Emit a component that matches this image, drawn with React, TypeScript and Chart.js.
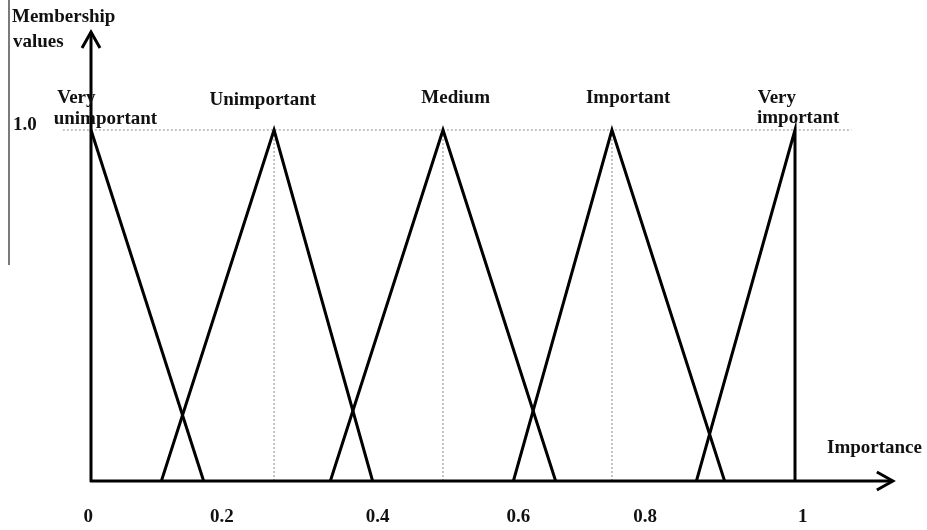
import React, { useEffect, useRef } from "react";
import { Chart, registerables } from "chart.js";

Chart.register(...registerables);

// ---- data ----
const CATEGORIES = ["Very unimportant", "Unimportant", "Medium", "Important", "Very important"];
const VERY_UNIMPORTANT: number[][] = [[0, 1], [0.16, 0]];
const UNIMPORTANT: number[][] = [[0.1, 0], [0.26, 1], [0.4, 0]];
const MEDIUM: number[][] = [[0.34, 0], [0.5, 1], [0.66, 0]];
const IMPORTANT: number[][] = [[0.6, 0], [0.74, 1], [0.9, 0]];
const VERY_IMPORTANT: number[][] = [[0.86, 0], [1, 1], [1, 0]];
const SERIES = [VERY_UNIMPORTANT, UNIMPORTANT, MEDIUM, IMPORTANT, VERY_IMPORTANT];

const PEAK_GUIDES_X = [0.26, 0.5, 0.74];
const FULL_MEMBERSHIP = 1.0;
const GUIDE_X_RANGE = [-0.04, 1.08];

const TICK_LABELS = ["0", "0.2", "0.4", "0.6", "0.8", "1"];
const TICK_POSITIONS = [-0.004, 0.186, 0.407, 0.607, 0.787, 1.011];

const X_TITLE = "Importance";
const Y_TITLE = ["Membership", "values"];
const Y_LABEL = "1.0";

const FONT = "'Liberation Serif', 'Times New Roman', serif";

const axisPlugin = {
  id: "fuzzyAxes",
  afterDatasetsDraw(chart: any) {
    const ctx: CanvasRenderingContext2D = chart.ctx;
    const xs = chart.scales.x;
    const ys = chart.scales.y;
    const x0 = xs.getPixelForValue(0);
    const y0 = ys.getPixelForValue(0);
    const yTop = ys.getPixelForValue(1.279);
    const xRight = xs.getPixelForValue(1.139);
    ctx.save();
    ctx.strokeStyle = "#000";
    ctx.lineWidth = 3;
    ctx.lineCap = "butt";
    ctx.lineJoin = "miter";
    // y axis
    ctx.beginPath();
    ctx.moveTo(x0, y0 + 1);
    ctx.lineTo(x0, yTop);
    ctx.stroke();
    ctx.beginPath();
    ctx.moveTo(x0 - 9, yTop + 16);
    ctx.lineTo(x0, yTop);
    ctx.lineTo(x0 + 9, yTop + 16);
    ctx.stroke();
    // x axis
    ctx.beginPath();
    ctx.moveTo(x0 - 1, y0);
    ctx.lineTo(xRight, y0);
    ctx.stroke();
    ctx.beginPath();
    ctx.moveTo(xRight - 16, y0 - 9);
    ctx.lineTo(xRight, y0);
    ctx.lineTo(xRight - 16, y0 + 9);
    ctx.stroke();

    // thin left border artifact
    ctx.lineWidth = 1.2;
    ctx.strokeStyle = "#222";
    ctx.beginPath();
    ctx.moveTo(9, 0);
    ctx.lineTo(9, 265);
    ctx.stroke();

    // texts
    ctx.fillStyle = "#111";
    ctx.font = `bold 19px ${FONT}`;
    ctx.textBaseline = "middle";
    ctx.textAlign = "left";
    ctx.fillText(Y_TITLE[0], 12, 17);
    ctx.fillText(Y_TITLE[1], 13, 42);
    ctx.fillText(Y_LABEL, 13, ys.getPixelForValue(FULL_MEMBERSHIP) - 5);
    ctx.fillText(X_TITLE, 827, 448);

    const l1 = ys.getPixelForValue(1.091);
    const l2 = ys.getPixelForValue(1.031);
    // Very unimportant (two lines, left aligned)
    ctx.textAlign = "left";
    ctx.fillText("Very", xs.getPixelForValue(-0.048), l1);
    ctx.fillText("unimportant", xs.getPixelForValue(-0.053), l2);
    ctx.fillText("Very", xs.getPixelForValue(0.947), l1);
    ctx.fillText("important", xs.getPixelForValue(0.946), l2 - 1);
    ctx.textAlign = "center";
    const ly = ys.getPixelForValue(1.085);
    ctx.fillText(CATEGORIES[1], xs.getPixelForValue(0.244), ly);
    ctx.fillText(CATEGORIES[2], xs.getPixelForValue(0.518), ly - 2);
    ctx.fillText(CATEGORIES[3], xs.getPixelForValue(0.763), ly - 2);
    ctx.restore();
  },
};

export default function App() {
  const ref = useRef<HTMLCanvasElement | null>(null);
  useEffect(() => {
    document.body.style.margin = "0";
    const canvas = ref.current;
    if (!canvas) return;
    const toPts = (s: number[][]) => s.map(([x, y]) => ({ x, y }));
    const solid = SERIES.map((s, i) => ({
      label: CATEGORIES[i],
      data: toPts(s),
      borderColor: "#000",
      borderWidth: 3,
      borderJoinStyle: "miter" as const,
      pointRadius: 0,
      showLine: true,
      fill: false,
      tension: 0,
    }));
    const dotted = [
      {
        label: "full membership",
        data: GUIDE_X_RANGE.map((x) => ({ x, y: FULL_MEMBERSHIP })),
      },
      ...PEAK_GUIDES_X.map((x) => ({
        label: "peak " + x,
        data: [{ x, y: 0 }, { x, y: FULL_MEMBERSHIP }],
      })),
    ].map((d) => ({
      ...d,
      borderColor: "#8a8a8a",
      borderWidth: 1,
      borderDash: [2, 2],
      pointRadius: 0,
      showLine: true,
      fill: false,
    }));

    const chart = new Chart(canvas, {
      type: "line",
      data: { datasets: [...solid, ...dotted] as any },
      options: {
        animation: false,
        responsive: false,
        maintainAspectRatio: false,
        layout: { padding: { left: 55.8, right: 26.4, top: 24.7, bottom: 0 } },
        plugins: { legend: { display: false }, tooltip: { enabled: false } },
        scales: {
          x: {
            type: "linear",
            min: -0.05,
            max: 1.15,
            grid: { display: false, drawTicks: false },
            border: { display: false },
            ticks: {
              padding: 25,
              autoSkip: false,
              maxRotation: 0,
              color: "#111",
              font: { family: FONT, size: 19, weight: "bold" },
              callback: (_v: any, i: number) => TICK_LABELS[i],
            },
            afterBuildTicks: (s: any) => {
              s.ticks = TICK_POSITIONS.map((v) => ({ value: v }));
            },
            afterFit: (s: any) => {
              s.height = 49;
            },
          },
          y: { type: "linear", display: false, min: 0, max: 1.3 },
        },
      } as any,
      plugins: [axisPlugin],
    });
    return () => chart.destroy();
  }, []);
  return (
    <div style={{ width: 927, height: 530, background: "#fff" }}>
      <canvas ref={ref} width={927} height={530} style={{ display: "block" }} />
    </div>
  );
}
